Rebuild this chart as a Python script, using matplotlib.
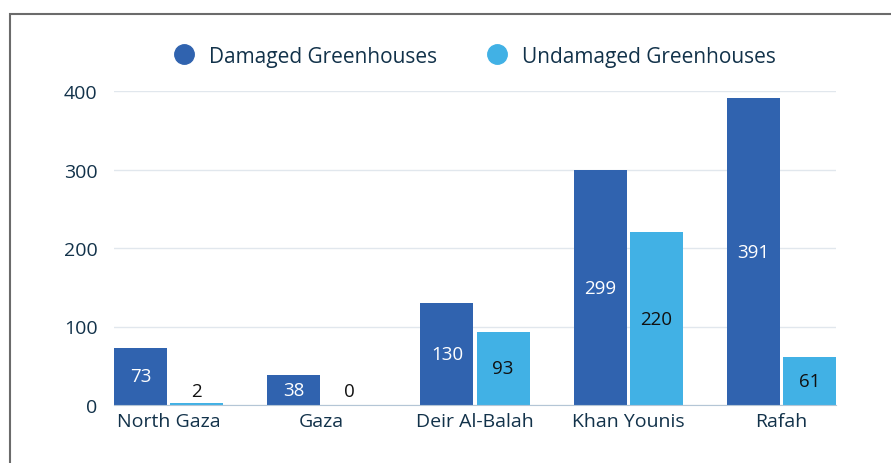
import numpy as np
import matplotlib
matplotlib.use("Agg")
import matplotlib.pyplot as plt
from matplotlib.lines import Line2D
from matplotlib.patches import Rectangle

regions = ["North Gaza", "Gaza", "Deir Al-Balah", "Khan Younis", "Rafah"]
damaged = [73, 38, 130, 299, 391]
undamaged = [2, 0, 93, 220, 61]
series_names = ["Damaged Greenhouses", "Undamaged Greenhouses"]
yticks = [0, 100, 200, 300, 400]

dark_blue = "#3063AF"
light_blue = "#41B1E5"
text_col = "#12324A"

plt.rcParams['font.family'] = ['Open Sans', 'DejaVu Sans']
plt.rcParams['font.weight'] = 500

fig = plt.figure(figsize=(8.91, 4.64), dpi=100)
ax = fig.add_axes([114/891, 1 - 406/464, 722/891, (406 - 92)/464])

# outer frame
fig.patches.append(Rectangle((10/891, -0.1), 1.2, 1 - 15/464 + 0.1, transform=fig.transFigure,
                             fill=False, edgecolor="#6b6b6b", linewidth=1.5))

x = np.arange(len(regions))
w = 0.346
off = w/2 + 0.01
ax.bar(x - off, damaged, w, color=dark_blue, zorder=3)
ax.bar(x + off, undamaged, w, color=light_blue, zorder=3)

fs = 13.5
for xi, v in zip(x - off, damaged):
    if v >= 25:
        ax.text(xi, v/2, str(v), ha="center", va="center", color="white", fontsize=fs, zorder=4)
    else:
        ax.text(xi, 18, str(v), ha="center", va="center", color=text_col, fontsize=fs, zorder=4)
for xi, v in zip(x + off, undamaged):
    ax.text(xi, max(v/2, 18), str(v), ha="center", va="center", color="#111111", fontsize=fs, zorder=4)

ax.set_xlim(-0.356, 4.356)
ax.set_ylim(0, 400)
ax.set_yticks(yticks)
ax.set_xticks(x)
ax.set_xticklabels(regions)
ax.tick_params(axis="both", length=0, labelsize=14, labelcolor=text_col)
ax.tick_params(axis="y", pad=12)
ax.tick_params(axis="x", pad=5)
ax.grid(axis="y", color="#e1e7ed", linewidth=1, zorder=0)
for s in ["top", "right", "left"]:
    ax.spines[s].set_visible(False)
ax.spines["bottom"].set_color("#b4c6d6")
ax.spines["bottom"].set_zorder(5)

handles = [Line2D([], [], marker="o", linestyle="none", markersize=14, color=c)
           for c in [dark_blue, light_blue]]
fig.legend(handles, series_names, loc="center", bbox_to_anchor=(0.527, 1 - 57/464), ncol=2,
           frameon=False, fontsize=15, labelcolor=text_col, handletextpad=0.2, columnspacing=1.9)

fig.savefig("out.png", dpi=100)
